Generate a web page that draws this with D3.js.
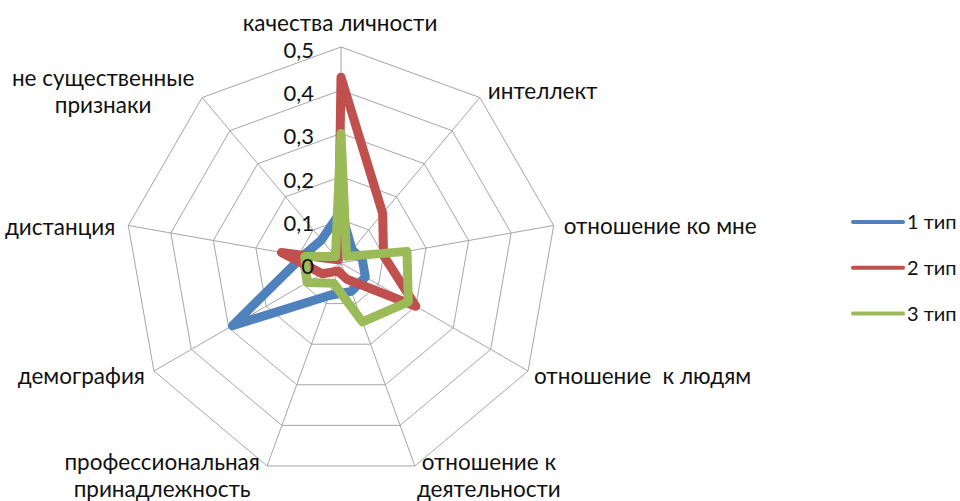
<!DOCTYPE html>
<html>
<head>
<meta charset="utf-8">
<script src="https://cdn.jsdelivr.net/npm/d3@7"></script>
<style>
  html, body { margin: 0; padding: 0; background: #fff; }
  text { font-family: Lato, "Open Sans", sans-serif; fill: #111; }
</style>
</head>
<body>
<div id="chart"></div>
<script>
// categories clockwise from the top
const categories = [
  ["качества личности"],
  ["интеллект"],
  ["отношение ко мне"],
  ["отношение  к людям"],
  ["отношение к", "деятельности"],
  ["профессиональная", "принадлежность"],
  ["демография"],
  ["дистанция"],
  ["не существенные", "признаки"]
];
const seriesNames = ["1 тип", "2 тип", "3 тип"];
const type1 = [0.12, 0.04, 0.05, 0.065, 0.07, 0.08, 0.29, 0.09, 0.07];
const type2 = [0.43, 0.15, 0.10, 0.20, 0.04, 0.02, 0.05, 0.14, 0.01];
const type3 = [0.30, 0.02, 0.155, 0.18, 0.145, 0.05, 0.09, 0.085, 0.02];
const tickValues = [0, 0.1, 0.2, 0.3, 0.4, 0.5];
const tickLabels = ["0", "0,1", "0,2", "0,3", "0,4", "0,5"];

const width = 960;
const height = 501;
const cx = 341, cy = 263;
const colors = ["#4f81bd", "#c0504d", "#9bbb59"];

// label offsets from the outer vertex: [dx, dy of first baseline, anchor]
const labelLayout = [
  [-1, -16, "middle"],
  [8, 1, "start"],
  [10, 8, "start"],
  [6, 13, "start"],
  [74, 4, "middle"],
  [-105, 4, "middle"],
  [-9, 13, "end"],
  [-13, 9, "end"],
  [-99, -12, "middle"]
];

let n = categories.length;
let angle = d3.scaleLinear().domain([0, n]).range([0, 2 * Math.PI]);
let r = d3.scaleLinear().domain([0, 0.5]).range([0, 216]);

function px(i, v) { return Math.sin(angle(i)) * r(v); }
function py(i, v) { return -Math.cos(angle(i)) * r(v); }

let svg = d3
  .select("#chart")
  .append("svg")
  .attr("width", width)
  .attr("height", height);

let g = svg.append("g").attr("transform", "translate(" + cx + "," + cy + ")");

// grid rings
let ring = d3.lineRadial()
  .angle((d, i) => angle(i))
  .radius((d) => r(d))
  .curve(d3.curveLinearClosed);

g.selectAll(".ring")
  .data(tickValues.slice(1))
  .enter()
  .append("path")
  .attr("class", "ring")
  .attr("d", (t) => ring(categories.map(() => t)))
  .attr("fill", "none")
  .attr("stroke", "#a6a6a6")
  .attr("stroke-width", 1);

// spokes
g.selectAll(".spoke")
  .data(categories)
  .enter()
  .append("line")
  .attr("class", "spoke")
  .attr("x1", 0)
  .attr("y1", 0)
  .attr("x2", (d, i) => px(i, 0.5))
  .attr("y2", (d, i) => py(i, 0.5))
  .attr("stroke", "#a6a6a6")
  .attr("stroke-width", 1);

// category labels
categories.forEach(function (lines, i) {
  let lay = labelLayout[i];
  let t = g.append("text")
    .attr("text-anchor", lay[2])
    .attr("xml:space", "preserve")
    .style("font-size", "22.5px");
  lines.forEach(function (line, k) {
    t.append("tspan")
      .attr("x", px(i, 0.5) + lay[0])
      .attr("y", py(i, 0.5) + lay[1] + k * 27)
      .style("white-space", "pre")
      .text(line);
  });
});

// series
let seriesLine = d3.lineRadial()
  .angle((d, i) => angle(i))
  .radius((d) => r(d))
  .curve(d3.curveLinearClosed);

g.selectAll(".series")
  .data([type1, type2, type3])
  .enter()
  .append("path")
  .attr("class", "series")
  .attr("d", (d) => seriesLine(d))
  .attr("fill", "none")
  .attr("stroke", (d, i) => colors[i])
  .attr("stroke-width", 9)
  .attr("stroke-linejoin", "round")
  .attr("stroke-linecap", "round");

// tick labels along the top axis, drawn over the series
g.selectAll(".tick")
  .data(tickValues)
  .enter()
  .append("text")
  .attr("class", "tick")
  .attr("x", -27)
  .attr("y", (t) => -r(t) + 11)
  .attr("text-anchor", "end")
  .style("font-size", "22px")
  .text((t, i) => tickLabels[i]);

// legend
let legend = svg.append("g").attr("transform", "translate(853,222)");
let items = legend.selectAll(".item")
  .data(seriesNames)
  .enter()
  .append("g")
  .attr("class", "item")
  .attr("transform", (d, i) => "translate(0," + i * 45.8 + ")");
items.append("line")
  .attr("x1", 0)
  .attr("x2", 50)
  .attr("stroke", (d, i) => colors[i])
  .attr("stroke-width", 4)
  .attr("stroke-linecap", "round");
items.append("text")
  .attr("x", 54)
  .attr("y", 7)
  .style("font-size", "20px")
  .text((d) => d);
</script>
</body>
</html>
